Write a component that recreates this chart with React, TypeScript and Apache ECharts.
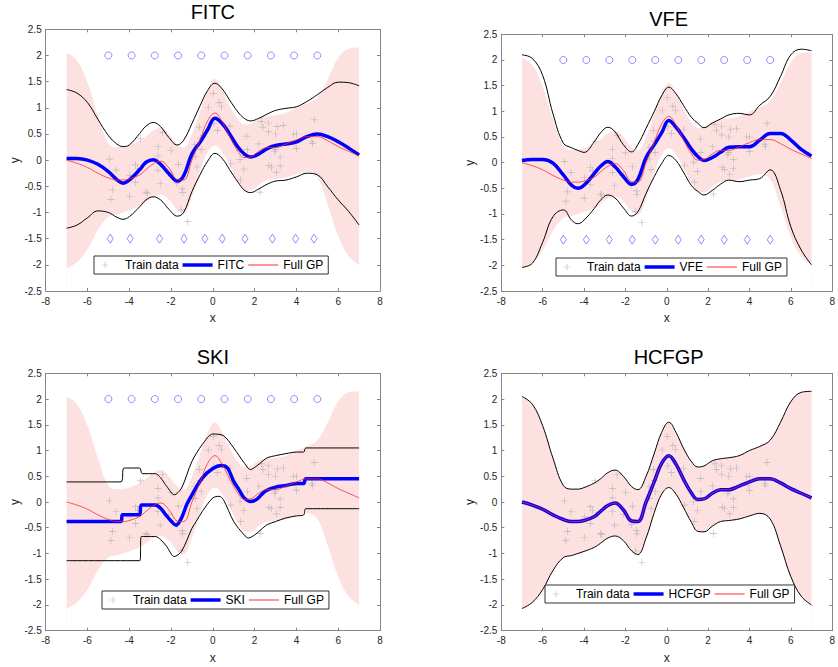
import React, { useEffect, useRef } from "react";
import * as echarts from "echarts";

// shared x grid for smooth curves
const xs = [-7, -6.5, -6, -5.5, -5, -4.6, -4.3, -4, -3.5, -3.2, -2.85, -2.5, -2.1, -1.7, -1.4, -1, -0.6, -0.25, 0.1, 0.45, 0.8, 1.2, 1.5, 1.8, 2.2, 2.6, 3, 3.5, 4, 4.5, 5, 5.5, 6, 6.5, 7];

// Full GP
const fullMean = [0.0, -0.06, -0.14, -0.25, -0.34, -0.38, -0.38, -0.36, -0.28, -0.18, -0.07, -0.02, -0.15, -0.37, -0.38, 0.0, 0.4, 0.75, 0.9, 0.73, 0.45, 0.17, 0.05, 0.06, 0.17, 0.24, 0.24, 0.31, 0.39, 0.45, 0.45, 0.37, 0.26, 0.17, 0.08];
const fullUpper = [2.05, 1.9, 1.48, 0.85, 0.32, 0.25, 0.25, 0.28, 0.37, 0.45, 0.57, 0.62, 0.5, 0.3, 0.24, 0.5, 0.95, 1.35, 1.55, 1.35, 1.05, 0.78, 0.68, 0.7, 0.8, 0.84, 0.86, 0.9, 1.0, 1.08, 1.2, 1.55, 1.95, 2.13, 2.15];
const fullLower = [-2.07, -1.95, -1.7, -1.33, -1.08, -1.04, -1.0, -0.96, -0.88, -0.8, -0.7, -0.66, -0.75, -0.95, -1.02, -0.7, -0.2, 0.15, 0.28, 0.15, -0.1, -0.4, -0.57, -0.58, -0.47, -0.38, -0.36, -0.33, -0.27, -0.22, -0.33, -0.85, -1.45, -1.83, -2.0];

// FITC
const fitcMean = [0.03, 0.03, 0.0, -0.08, -0.22, -0.37, -0.44, -0.38, -0.18, -0.04, 0.01, -0.08, -0.26, -0.4, -0.3, 0.12, 0.35, 0.58, 0.8, 0.7, 0.5, 0.25, 0.12, 0.06, 0.12, 0.22, 0.28, 0.31, 0.35, 0.45, 0.5, 0.45, 0.35, 0.23, 0.1];
const fitcUpper = [1.35, 1.28, 1.1, 0.78, 0.47, 0.31, 0.26, 0.29, 0.51, 0.65, 0.72, 0.64, 0.43, 0.29, 0.38, 0.7, 1.05, 1.33, 1.47, 1.36, 1.15, 0.92, 0.8, 0.75, 0.8, 0.88, 0.95, 0.99, 1.02, 1.12, 1.25, 1.39, 1.49, 1.48, 1.42];
const fitcLower = [-1.3, -1.24, -1.1, -0.97, -1.0, -1.09, -1.13, -1.08, -0.89, -0.76, -0.7, -0.76, -0.94, -1.07, -1.0, -0.6, -0.27, -0.02, 0.13, 0.03, -0.18, -0.42, -0.57, -0.62, -0.55, -0.46, -0.4, -0.38, -0.32, -0.25, -0.28, -0.51, -0.76, -0.98, -1.24];

// VFE
const vfeMean = [0.04, 0.06, 0.06, -0.01, -0.24, -0.44, -0.5, -0.44, -0.21, -0.07, 0.02, -0.08, -0.27, -0.42, -0.33, 0.1, 0.35, 0.58, 0.82, 0.69, 0.5, 0.26, 0.12, 0.04, 0.1, 0.2, 0.3, 0.31, 0.31, 0.44, 0.57, 0.57, 0.44, 0.26, 0.13];
const vfeUpper = [2.1, 2.03, 1.7, 0.95, 0.38, 0.29, 0.24, 0.2, 0.41, 0.58, 0.69, 0.6, 0.35, 0.21, 0.35, 0.67, 1.0, 1.3, 1.47, 1.34, 1.12, 0.88, 0.77, 0.68, 0.77, 0.85, 0.93, 0.96, 0.93, 1.12, 1.29, 1.68, 2.1, 2.21, 2.18];
const vfeLower = [-2.04, -1.96, -1.55, -1.05, -0.92, -1.12, -1.19, -1.12, -0.89, -0.73, -0.63, -0.69, -0.88, -1.04, -0.96, -0.6, -0.27, -0.02, 0.14, 0.04, -0.18, -0.45, -0.56, -0.63, -0.54, -0.42, -0.34, -0.37, -0.34, -0.31, -0.14, -0.53, -1.25, -1.7, -1.99];

// SKI (piecewise, own x positions)
const skiMeanX = [-7, -4.4, -4.32, -3.52, -3.42, -2.75, -2.5, -2.25, -2, -1.76, -1.5, -1.25, -1, -0.5, 0, 0.4, 0.7, 1, 1.25, 1.5, 1.8, 2.1, 2.5, 3, 3.5, 4, 4.35, 4.45, 7];
const skiMeanY = [-0.38, -0.38, -0.25, -0.25, -0.06, -0.06, -0.12, -0.25, -0.37, -0.45, -0.31, -0.05, 0.14, 0.47, 0.65, 0.71, 0.66, 0.4, 0.24, 0.08, 0.01, 0.05, 0.21, 0.29, 0.32, 0.36, 0.36, 0.45, 0.45];
const skiUpperX = [-7, -4.4, -4.25, -3.5, -3.38, -2.75, -2.5, -2.2, -1.85, -1.5, -1, -0.5, 0, 0.5, 1, 1.5, 1.8, 2.1, 2.4, 2.6, 3, 3.5, 4, 4.35, 4.45, 7];
const skiUpperY = [0.39, 0.39, 0.66, 0.66, 0.55, 0.55, 0.47, 0.3, 0.14, 0.27, 0.79, 1.12, 1.32, 1.29, 1.05, 0.76, 0.63, 0.7, 0.8, 0.86, 0.9, 0.94, 0.97, 0.97, 1.05, 1.05];
const skiLowerX = [-7, -3.5, -3.42, -2.75, -2.5, -2.2, -1.85, -1.5, -1, -0.8, -0.5, 0, 0.3, 0.5, 1, 1.5, 1.7, 2, 2.3, 2.6, 3, 3.5, 4, 4.35, 4.45, 7];
const skiLowerY = [-1.14, -1.14, -0.67, -0.67, -0.73, -0.87, -1.06, -0.96, -0.51, -0.38, -0.18, 0.08, 0.11, 0.05, -0.38, -0.64, -0.7, -0.64, -0.54, -0.44, -0.38, -0.31, -0.27, -0.25, -0.13, -0.13];

// Training data
const trainX = [-4.95, -4.63, -4.8, -4.88, -3.97, -3.99, -3.7, -3.6, -3.7, -3.47, -3.2, -3.14, -2.62, -2.62, -2.52, -2.4, -2.63, -2.0, -2.1, -1.65, -1.72, -1.47, -1.44, -1.52, -1.2, -0.86, -0.84, -0.76, -0.65, -0.6, -0.56, -0.22, 0.02, 0.05, 0.22, 0.3, 0.42, 0.82, 0.86, 1.3, 1.33, 1.48, 1.62, 1.65, 2.2, 2.26, 2.33, 2.4, 2.65, 2.66, 2.68, 2.8, 2.95, 3.0, 3.0, 3.08, 3.04, 3.22, 3.22, 3.37, 3.85, 4.0, 3.93, 4.0, 4.74, 4.77, 4.85];
const trainY = [0.02, -0.19, -0.57, -0.75, -0.29, -0.69, -0.09, -0.16, -0.42, 0.41, -0.61, -0.63, 0.26, 0.08, -0.45, 0.53, -0.19, 0.19, -0.24, -0.08, -0.44, -0.55, -0.62, -0.95, -1.17, 0.3, 0.07, -0.13, 0.63, 0.42, 0.2, 1.01, 1.27, 0.7, 0.57, 1.1, 1.02, 0.65, -0.06, 0.01, -0.38, -0.17, 0.46, 0.2, 0.31, -0.61, 0.74, 0.63, 0.71, 0.54, -0.1, -0.13, 0.16, 0.2, 0.5, 0.64, -0.23, -0.11, 0.06, 0.66, 0.5, 0.5, 0.32, 0.22, 0.36, 0.32, 0.77];

// inducing points
const inducingInit = [-5, -3.889, -2.778, -1.667, -0.556, 0.556, 1.667, 2.778, 3.889, 5];
const fitcInducing = [-4.91, -3.96, -2.55, -1.38, -0.38, 0.45, 1.54, 2.85, 3.96, 4.84];
const vfeInducing = [-5, -3.889, -2.778, -1.667, -0.556, 0.556, 1.667, 2.778, 3.889, 5];
const initLevel = 2;
const optLevel = -1.5;

const xTicks = { min: -8, max: 8, interval: 2 };
const yTicks = { min: -2.5, max: 2.5, interval: 0.5 };

const FONT = "Liberation Sans, Arial, Helvetica, sans-serif";
const PINK = "#fde1e1";
const AXIS = "#868686";
const BLUE = "#0000ff";
const RED = "#ff2a2a";
const MARK = "#5050ff";
const GRAY = "#ababab";
const PLUS = "path://M-0.09,-1H0.09V-0.09H1V0.09H0.09V1H-0.09V0.09H-1V-0.09H-0.09Z";
// legend icons (aspect kept by the legend)
const PLUS_LEGEND = "path://M-1.8,-1.8L-1.8,-1.799L-1.799,-1.8Z M1.8,1.8L1.8,1.799L1.799,1.8Z M-0.1,-1H0.1V-0.1H1V0.1H0.1V1H-0.1V0.1H-1V-0.1H-0.1Z";
const THICK_LEGEND = "path://M0,0H30V3.5H0Z";
const THIN_LEGEND = "path://M0,0H30V1H0Z";

const zip = (a: number[], b: number[]) => a.map((v, i) => [v, b[i]]);

type Panel = {
  name: string;
  grid: { left: number; top: number; width: number; height: number };
  titleTop: number;
  legend: { left: number; top: number };
  meanX: number[]; meanY: number[];
  upX: number[]; upY: number[];
  loX: number[]; loY: number[];
  smooth: number;
  circles: number[] | null;
  diamonds: number[] | null;
};

const panels: Panel[] = [
  { name: "FITC", grid: { left: 45.7, top: 29.3, width: 334.3, height: 261.7 }, titleTop: 2, legend: { left: 94, top: 256 },
    meanX: xs, meanY: fitcMean, upX: xs, upY: fitcUpper, loX: xs, loY: fitcLower, smooth: 0.4, circles: inducingInit, diamonds: fitcInducing },
  { name: "VFE", grid: { left: 501.3, top: 34.3, width: 334.7, height: 256.7 }, titleTop: 9, legend: { left: 556, top: 258 },
    meanX: xs, meanY: vfeMean, upX: xs, upY: vfeUpper, loX: xs, loY: vfeLower, smooth: 0.4, circles: inducingInit, diamonds: vfeInducing },
  { name: "SKI", grid: { left: 45.7, top: 373.3, width: 334.3, height: 257.4 }, titleTop: 347, legend: { left: 102, top: 591 },
    meanX: skiMeanX, meanY: skiMeanY, upX: skiUpperX, upY: skiUpperY, loX: skiLowerX, loY: skiLowerY, smooth: 0.3, circles: inducingInit, diamonds: null },
  { name: "HCFGP", grid: { left: 501.3, top: 373.3, width: 334.7, height: 257.4 }, titleTop: 347, legend: { left: 545, top: 585 },
    meanX: xs, meanY: fullMean, upX: xs, upY: fullUpper, loX: xs, loY: fullLower, smooth: 0.4, circles: null, diamonds: null },
];

function buildOption() {
  const grid: any[] = [];
  const xAxis: any[] = [];
  const yAxis: any[] = [];
  const title: any[] = [];
  const legend: any[] = [];
  const series: any[] = [];

  panels.forEach((p, i) => {
    grid.push({ ...p.grid, containLabel: false });
    const tick = { show: true, inside: true, length: 3, lineStyle: { color: AXIS, width: 1 } };
    const line = { show: true, onZero: false, lineStyle: { color: AXIS, width: 1 } };
    xAxis.push({
      gridIndex: i, type: "value", ...xTicks, position: "bottom", z: 10,
      axisLine: line, axisTick: tick, splitLine: { show: false },
      axisLabel: { color: "#262626", fontSize: 10, margin: 5, fontFamily: FONT },
      name: "x", nameLocation: "middle", nameGap: 21,
      nameTextStyle: { fontSize: 12, color: "#262626", fontFamily: FONT },
    });
    xAxis.push({
      gridIndex: i, type: "value", ...xTicks, position: "top", z: 10,
      axisLine: line, axisTick: tick, splitLine: { show: false }, axisLabel: { show: false },
    });
    yAxis.push({
      gridIndex: i, type: "value", ...yTicks, position: "left", z: 10,
      axisLine: line, axisTick: tick, splitLine: { show: false },
      axisLabel: { color: "#262626", fontSize: 10, margin: 4, fontFamily: FONT },
      name: "y", nameLocation: "middle", nameGap: 25, nameRotate: 90,
      nameTextStyle: { fontSize: 12, color: "#262626", fontFamily: FONT },
    });
    yAxis.push({
      gridIndex: i, type: "value", ...yTicks, position: "right", z: 10,
      axisLine: line, axisTick: tick, splitLine: { show: false }, axisLabel: { show: false },
    });

    title.push({
      text: p.name, left: p.grid.left + p.grid.width / 2, top: p.titleTop, textAlign: "center", padding: 0,
      textStyle: { fontSize: 20, fontWeight: "normal", color: "#000", fontFamily: FONT },
    });

    // per-panel series names (suffix "|i" is hidden by the legend formatter)
    const trainName = "Train data|" + i;
    const meanName = p.name + "|" + i;
    const fullName = "Full GP|" + i;

    legend.push({
      data: [
        { name: trainName, icon: PLUS_LEGEND, itemStyle: { color: GRAY, borderWidth: 0 } },
        { name: meanName, icon: THICK_LEGEND, itemStyle: { color: BLUE, borderWidth: 0 } },
        { name: fullName, icon: THIN_LEGEND, itemStyle: { color: RED, borderWidth: 0 } },
      ],
      formatter: (n: string) => n.split("|")[0],
      left: p.legend.left, top: p.legend.top,
      orient: "horizontal", itemWidth: 30, itemHeight: 12, itemGap: 4, padding: [3, 5],
      borderColor: "#333", borderWidth: 1, backgroundColor: "#fff", selectedMode: false, z: 20,
      textStyle: { fontSize: 12, color: "#000", fontFamily: FONT },
    });

    const base = { xAxisIndex: 2 * i, yAxisIndex: 2 * i, animation: false };
    // Full GP confidence band: pink under the upper bound, white under the lower bound
    series.push({ ...base, type: "line", data: zip(xs, fullUpper), symbol: "none", smooth: 0.4, z: 1,
      lineStyle: { opacity: 0, width: 0 }, areaStyle: { color: PINK, opacity: 1, origin: "start" }, silent: true });
    series.push({ ...base, type: "line", data: zip(xs, fullLower), symbol: "none", smooth: 0.4, z: 1,
      lineStyle: { opacity: 0, width: 0 }, areaStyle: { color: "#ffffff", opacity: 1, origin: "start" }, silent: true });
    // training data
    series.push({ ...base, name: trainName, type: "scatter", data: zip(trainX, trainY), symbol: PLUS, z: 3,
      symbolSize: 7, symbolKeepAspect: true, itemStyle: { color: GRAY } });
    // approx bounds
    series.push({ ...base, type: "line", data: zip(p.upX, p.upY), symbol: "none", smooth: p.smooth, z: 4,
      lineStyle: { color: "#000", width: 1 } });
    series.push({ ...base, type: "line", data: zip(p.loX, p.loY), symbol: "none", smooth: p.smooth, z: 4,
      lineStyle: { color: "#000", width: 1 } });
    // approx mean
    series.push({ ...base, name: meanName, type: "line", data: zip(p.meanX, p.meanY), symbol: "none", smooth: p.smooth, z: 5,
      lineStyle: { color: BLUE, width: 3.5 }, itemStyle: { color: BLUE } });
    // full GP mean
    series.push({ ...base, name: fullName, type: "line", data: zip(xs, fullMean), symbol: "none", smooth: 0.4, z: 6,
      lineStyle: { color: RED, width: 0.8 }, itemStyle: { color: RED } });
    if (p.circles) {
      series.push({ ...base, type: "scatter", data: p.circles.map((x) => [x, initLevel]), symbol: "circle", z: 6,
        symbolSize: 7, itemStyle: { color: "transparent", borderColor: MARK, borderWidth: 0.8 } });
    }
    if (p.diamonds) {
      series.push({ ...base, type: "scatter", data: p.diamonds.map((x) => [x, optLevel]), symbol: "diamond", z: 6,
        symbolSize: [6, 9], itemStyle: { color: "transparent", borderColor: MARK, borderWidth: 0.8 } });
    }
  });

  return { animation: false, backgroundColor: "#fff", grid, xAxis, yAxis, title, legend, series };
}

export default function App() {
  const ref = useRef<HTMLDivElement>(null);
  useEffect(() => {
    if (!ref.current) return;
    const chart = echarts.init(ref.current, undefined, { renderer: "svg" });
    chart.setOption(buildOption() as any);
    return () => chart.dispose();
  }, []);
  return <div ref={ref} style={{ position: "absolute", left: 0, top: 0, width: 838, height: 667 }} />;
}
